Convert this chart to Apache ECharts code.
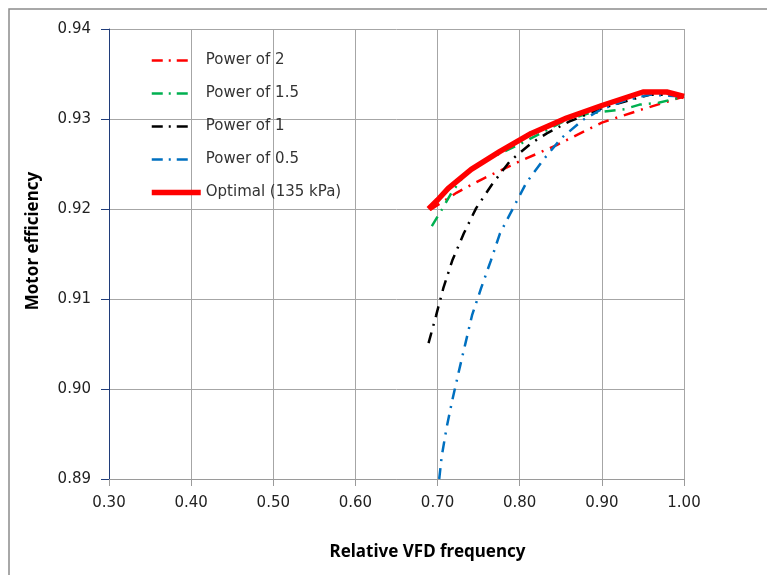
<!DOCTYPE html>
<html>
<head>
<meta charset="utf-8">
<script src="https://cdn.jsdelivr.net/npm/echarts@6/dist/echarts.min.js"></script>
<style>
  html, body { margin: 0; padding: 0; background: #fff; }
  #chart { width: 767px; height: 575px; }
</style>
</head>
<body>
<div id="chart"></div>
<script>
// Motor efficiency against relative VFD frequency for several control laws
const xTicks = [0.30, 0.40, 0.50, 0.60, 0.70, 0.80, 0.90, 1.00];
const yTicks = [0.89, 0.90, 0.91, 0.92, 0.93, 0.94];

const seriesNames = ['Power of 2', 'Power of 1.5', 'Power of 1', 'Power of 0.5', 'Optimal (135 kPa)'];

// [relative frequency, motor efficiency]
const powerOf2 = [
  [0.691, 0.9199], [0.723, 0.9218], [0.754, 0.9233], [0.800, 0.9253],
  [0.845, 0.9271], [0.900, 0.9296], [0.950, 0.9311], [1.000, 0.9325]
];
const powerOf15 = [
  [0.693, 0.9181], [0.705, 0.9199], [0.717, 0.9218], [0.733, 0.9238],
  [0.765, 0.9257], [0.800, 0.9272], [0.857, 0.9299], [0.883, 0.9306],
  [0.928, 0.9311], [0.946, 0.9316], [0.969, 0.9318], [1.000, 0.9325]
];
const powerOf1 = [
  [0.689, 0.9051], [0.698, 0.9081], [0.707, 0.9112], [0.718, 0.9143],
  [0.732, 0.9173], [0.747, 0.9201], [0.766, 0.9227], [0.788, 0.9253],
  [0.814, 0.9273], [0.833, 0.9284], [0.860, 0.9297], [0.900, 0.9312],
  [0.942, 0.9323], [0.958, 0.9327], [0.977, 0.9327], [1.000, 0.9325]
];
const powerOf05 = [
  [0.702, 0.8900], [0.705, 0.8925], [0.711, 0.8957], [0.718, 0.8988],
  [0.726, 0.9020], [0.734, 0.9051], [0.742, 0.9082], [0.753, 0.9112],
  [0.765, 0.9143], [0.776, 0.9173], [0.792, 0.9201], [0.808, 0.9229],
  [0.829, 0.9255], [0.851, 0.9279], [0.877, 0.9299], [0.898, 0.9310],
  [0.926, 0.9320], [0.958, 0.9327], [1.000, 0.9325]
];
const optimal = [
  [0.689, 0.9200], [0.700, 0.9210], [0.713, 0.9223], [0.741, 0.9244],
  [0.776, 0.9264], [0.814, 0.9284], [0.857, 0.9301], [0.900, 0.9315],
  [0.950, 0.9330], [0.979, 0.9330], [1.000, 0.9325]
];

const labelFont = 'DejaVu Sans, Verdana, sans-serif';
const titleFont = 'Noto Sans, Open Sans, sans-serif';
const dashDot = [11, 7, 2, 7];
// legend key: one dash-dot-dash group, then blank
const legendDash = [11, 6, 2, 6, 11, 30];

function dashSeries(name, data, color) {
  return {
    name: name, type: 'line', data: data,
    showSymbol: false, symbol: 'none', smooth: false,
    lineStyle: { color: color, width: 2.5, type: dashDot, cap: 'butt' },
    itemStyle: { color: color }
  };
}

const legendItems = seriesNames.map((n, i) => i < 4
  ? { name: n, lineStyle: { width: 2.5, type: legendDash } }
  : { name: n, lineStyle: { width: 5.5, type: 'solid' } });

const chart = echarts.init(document.getElementById('chart'));
chart.setOption({
  animation: false,
  backgroundColor: '#ffffff',
  graphic: [{
    type: 'rect',
    shape: { x: 9, y: 9, width: 820, height: 640 },
    style: { fill: 'none', stroke: '#8c8c8c', lineWidth: 1.5 },
    silent: true, z: -10
  }],
  grid: { left: 109, right: 83, top: 29, bottom: 96, containLabel: false },
  legend: {
    orient: 'vertical',
    left: 149, top: 52.5,
    padding: 0,
    itemWidth: 49, itemHeight: 16, itemGap: 17,
    itemStyle: { opacity: 0 },
    textStyle: { fontFamily: labelFont, fontSize: 15, lineHeight: 16, color: '#333333' },
    data: legendItems
  },
  xAxis: {
    type: 'value',
    min: xTicks[0], max: xTicks[xTicks.length - 1], interval: 0.1,
    name: 'Relative VFD frequency',
    nameLocation: 'middle', nameGap: 65,
    nameTextStyle: { fontFamily: titleFont, fontSize: 17, fontWeight: 'bold', color: '#000', padding: [0, 0, 0, 62] },
    axisLine: { show: true, lineStyle: { color: '#9a9a9a', width: 1 } },
    axisTick: { show: true, inside: false, length: 7, lineStyle: { color: '#9a9a9a' } },
    axisLabel: { fontFamily: labelFont, fontSize: 15, color: '#222', margin: 17,
      formatter: v => v.toFixed(2) },
    splitLine: { show: true, lineStyle: { color: '#a6a6a6', width: 1 } }
  },
  yAxis: {
    type: 'value',
    min: yTicks[0], max: yTicks[yTicks.length - 1], interval: 0.01,
    name: 'Motor efficiency',
    nameLocation: 'middle', nameGap: 67,
    nameTextStyle: { fontFamily: titleFont, fontSize: 17, fontWeight: 'bold', color: '#000', padding: [0, 0, 0, 26] },
    axisLine: { show: true, lineStyle: { color: '#203d7a', width: 1 } },
    axisTick: { show: true, inside: false, length: 8, lineStyle: { color: '#203d7a' } },
    axisLabel: { fontFamily: labelFont, fontSize: 15, color: '#222', margin: 18,
      formatter: v => v.toFixed(2) },
    splitLine: { show: true, lineStyle: { color: '#a6a6a6', width: 1 } }
  },
  series: [
    dashSeries(seriesNames[0], powerOf2, '#ff0000'),
    dashSeries(seriesNames[1], powerOf15, '#00b050'),
    dashSeries(seriesNames[2], powerOf1, '#000000'),
    dashSeries(seriesNames[3], powerOf05, '#0070c0'),
    {
      name: seriesNames[4], type: 'line', data: optimal,
      showSymbol: false, symbol: 'none',
      lineStyle: { color: '#ff0000', width: 5.5, type: 'solid' },
      itemStyle: { color: '#ff0000' },
      z: 5
    }
  ]
});
</script>
</body>
</html>
